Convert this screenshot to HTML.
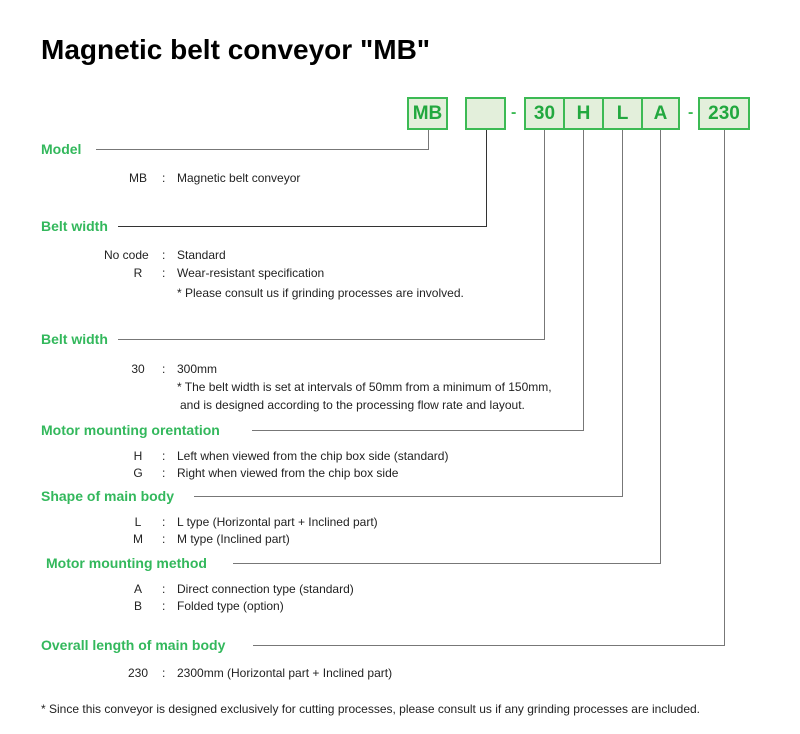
<!DOCTYPE html>
<html><head><meta charset="utf-8"><style>
body{margin:0;background:#fff;width:800px;height:734px;position:relative;font-family:"Liberation Sans",Arial,sans-serif;overflow:hidden}
.t{position:absolute;white-space:nowrap;line-height:16px}
.h{font-weight:bold;font-size:14px;color:#33b85c}
.b{font-size:12px;color:#222}
.c{width:60px;text-align:center;left:108px}
.box{position:absolute;top:97px;height:33px;background:#e3efdb;border:2px solid #3cba54;box-sizing:border-box;color:#22a83f;font-weight:bold;font-size:19px;text-align:center;line-height:29px}
</style></head><body>
<div class="t" style="left:41px;top:33px;font-size:28px;font-weight:bold;line-height:34px;color:#000">Magnetic belt conveyor "MB"</div>
<div class="box" style="left:407px;width:41px">MB</div>
<div class="box" style="left:465px;width:41px"></div>
<div class="t" style="left:511px;top:105px;color:#3cba54;font-weight:bold">-</div>
<div class="box" style="left:524px;width:41px">30</div>
<div class="box" style="left:563px;width:41px">H</div>
<div class="box" style="left:602px;width:41px">L</div>
<div class="box" style="left:641px;width:39px">A</div>
<div class="t" style="left:688px;top:105px;color:#3cba54;font-weight:bold">-</div>
<div class="box" style="left:698px;width:52px">230</div>
<svg style="position:absolute;left:0;top:0" width="800" height="734">
<g stroke="#777" stroke-width="1" fill="none">
<polyline points="96,149.5 428.5,149.5 428.5,130"/>
<polyline points="118,226.5 486.5,226.5 486.5,130" stroke="#333"/>
<polyline points="118,339.5 544.5,339.5 544.5,130"/>
<polyline points="252,430.5 583.5,430.5 583.5,130"/>
<polyline points="194,496.5 622.5,496.5 622.5,130"/>
<polyline points="233,563.5 660.5,563.5 660.5,130"/>
<polyline points="253,645.5 724.5,645.5 724.5,130"/>
</g></svg>
<div class="t h" style="left:41px;top:141px">Model</div>
<div class="t b c" style="top:170px">MB</div><div class="t b" style="left:162px;top:170px">:</div><div class="t b" style="left:177px;top:170px">Magnetic belt conveyor</div>
<div class="t h" style="left:41px;top:218px">Belt width</div>
<div class="t b" style="left:104px;top:247px">No code</div><div class="t b" style="left:162px;top:247px">:</div><div class="t b" style="left:177px;top:247px">Standard</div>
<div class="t b c" style="top:265px">R</div><div class="t b" style="left:162px;top:265px">:</div><div class="t b" style="left:177px;top:265px">Wear-resistant specification</div>
<div class="t b" style="left:177px;top:285px">* Please consult us if grinding processes are involved.</div>
<div class="t h" style="left:41px;top:331px">Belt width</div>
<div class="t b c" style="top:361px">30</div><div class="t b" style="left:162px;top:361px">:</div><div class="t b" style="left:177px;top:361px">300mm</div>
<div class="t b" style="left:177px;top:379px">* The belt width is set at intervals of 50mm from a minimum of 150mm,</div>
<div class="t b" style="left:180px;top:397px">and is designed according to the processing flow rate and layout.</div>
<div class="t h" style="left:41px;top:422px">Motor mounting orentation</div>
<div class="t b c" style="top:448px">H</div><div class="t b" style="left:162px;top:448px">:</div><div class="t b" style="left:177px;top:448px">Left when viewed from the chip box side (standard)</div>
<div class="t b c" style="top:465px">G</div><div class="t b" style="left:162px;top:465px">:</div><div class="t b" style="left:177px;top:465px">Right when viewed from the chip box side</div>
<div class="t h" style="left:41px;top:488px">Shape of main body</div>
<div class="t b c" style="top:514px">L</div><div class="t b" style="left:162px;top:514px">:</div><div class="t b" style="left:177px;top:514px">L type (Horizontal part + Inclined part)</div>
<div class="t b c" style="top:531px">M</div><div class="t b" style="left:162px;top:531px">:</div><div class="t b" style="left:177px;top:531px">M type (Inclined part)</div>
<div class="t h" style="left:46px;top:555px">Motor mounting method</div>
<div class="t b c" style="top:581px">A</div><div class="t b" style="left:162px;top:581px">:</div><div class="t b" style="left:177px;top:581px">Direct connection type (standard)</div>
<div class="t b c" style="top:598px">B</div><div class="t b" style="left:162px;top:598px">:</div><div class="t b" style="left:177px;top:598px">Folded type (option)</div>
<div class="t h" style="left:41px;top:637px">Overall length of main body</div>
<div class="t b c" style="top:665px">230</div><div class="t b" style="left:162px;top:665px">:</div><div class="t b" style="left:177px;top:665px">2300mm (Horizontal part + Inclined part)</div>
<div class="t b" style="left:41px;top:701px">* Since this conveyor is designed exclusively for cutting processes, please consult us if any grinding processes are included.</div>
</body></html>
